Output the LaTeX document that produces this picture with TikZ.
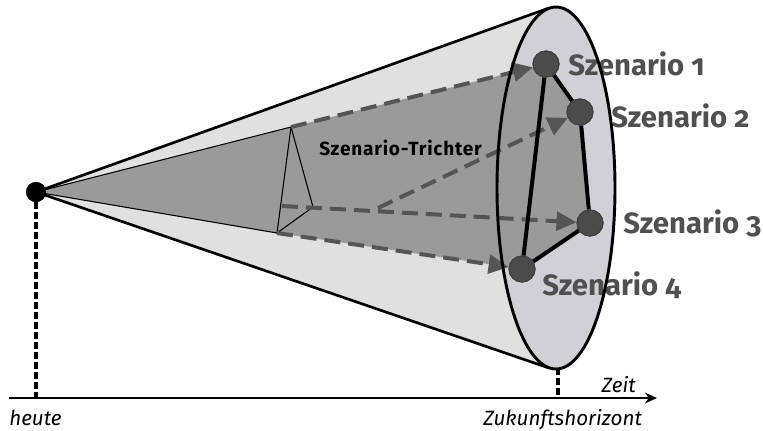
\documentclass[tikz,border=0pt]{standalone}
\usepackage{fontspec}
\setmainfont{Fira Sans}
\newfontfamily\scenfont[Numbers=OldStyle]{Fira Sans}
\newfontfamily\funnelfont[LetterSpace=4]{Fira Sans}
\usepackage{tikz}
\usetikzlibrary{arrows.meta,positioning,calc}
\definecolor{conelight}{HTML}{E0E0E0}
\definecolor{rimface}{HTML}{D0D0D6}
\definecolor{funnelgrey}{HTML}{9A9A9A}
\definecolor{flowgrey}{HTML}{555555}
\definecolor{dotgrey}{HTML}{4B4B4B}
\definecolor{labelgrey}{HTML}{505050}

\begin{document}
\begin{tikzpicture}[x=0.75pt,y=-0.75pt,
    scen/.style={circle,fill=dotgrey,draw=black!75,line width=0.8pt,
                 minimum size=19.5pt,inner sep=0pt},
    scenlabel/.style={anchor=base west,inner sep=0pt,text=labelgrey,
                      font=\scenfont\bfseries\fontsize{22}{22}\selectfont},
    axislabel/.style={inner sep=0pt,font=\itshape\fontsize{15.5}{15.5}\selectfont},
    flow/.style={draw=flowgrey,line width=3pt,dash pattern=on 12pt off 6pt,
                 -{Triangle[length=15pt,width=14pt,fill=flowgrey]}},
    thinline/.style={draw=black,line width=0.8pt},
    dropline/.style={draw=black,line width=2.4pt,dash pattern=on 5pt off 2.5pt}]
  \useasboundingbox (0,0) rectangle (763,430);

  % fixed points of the cone
  \coordinate (rimtop) at (549,8);
  \coordinate (rimbot) at (549,368);
  \coordinate (rimmid) at (556,188);
  \coordinate (ttop) at (291,127);
  \coordinate (tright) at (313,207);
  \coordinate (tbot) at (277,233);
  \coordinate (tmid) at (282,206);
  \coordinate (fork) at (378,208);
  \coordinate (p1) at (546,64);
  \coordinate (p2) at (580,112);
  \coordinate (p3) at (590,223);
  \coordinate (p4) at (522,269);

  \node[circle,fill=black,minimum size=15pt,inner sep=0pt] (today) at (36,192) {};

  % cone and funnel
  \fill[conelight] (today.center) -- (rimtop) -- (rimbot) -- cycle;
  \fill[rimface] (rimmid) ellipse [x radius=59,y radius=181];
  \fill[funnelgrey] (today.center) -- (ttop) -- (p1) -- (p2) -- (p3) -- (p4)
    -- (tbot) -- cycle;
  \draw[line width=2pt] (rimtop) -- (today.center) -- (rimbot);

  \draw[thinline] (today.center) -- (ttop) -- (tbot) -- cycle;
  \draw[thinline] (ttop) -- (tright) -- (tbot);
  \node[circle,fill=black,minimum size=15pt,inner sep=0pt] at (today) {};

  \node[anchor=base west,inner sep=0pt,
        font=\funnelfont\bfseries\fontsize{14.3}{14.3}\selectfont] (funnel) at (319,155)
    {Szenario-Trichter};

  % scenarios
  \node[scen] (s1) at (p1) {};
  \node[scen] (s2) at (p2) {};
  \node[scen] (s3) at (p3) {};
  \node[scen] (s4) at (p4) {};

  \draw[flow] (ttop) -- (s1);
  \draw[flow] (fork) -- (s2);
  \draw[flow] (tmid) -- (s3);
  \draw[flow] (tbot) -- (s4);

  \draw[line width=3pt] (s1) -- (s2) -- (s3) -- (s4) -- (s1);
  \node[scen] at (p1) {};
  \node[scen] at (p2) {};
  \node[scen] at (p3) {};
  \node[scen] at (p4) {};

  \node[scenlabel] (l1) at (568,75) {Szenario 1};
  \node[scenlabel] (l2) at (611,127) {Szenario 2};
  \node[scenlabel] (l3) at (623,233) {Szenario 3};
  \node[scenlabel] (l4) at (542,295) {Szenario 4};

  \draw[line width=2.2pt] (rimmid) ellipse [x radius=59,y radius=181];

  % time axis
  \coordinate (axisstart) at (9,398);
  \coordinate (axisend) at (657,398);
  \coordinate (now) at (36,398);
  \coordinate (horizon) at (558,398);
  \draw[line width=1.6pt,-{Stealth[length=9pt,width=8pt]}] (axisstart) -- (axisend);
  \draw[dropline] (today) -- (now);
  \draw[dropline] (rimbot -| horizon) -- (horizon);

  \node[axislabel,anchor=base east] (zeit) at (636,392) {Zeit};
  \node[axislabel,anchor=base west] (heute) at (9,425) {heute};
  \node[axislabel,anchor=base west] (zukunft) at (483,425) {Zukunftshorizont};
\end{tikzpicture}
\end{document}
